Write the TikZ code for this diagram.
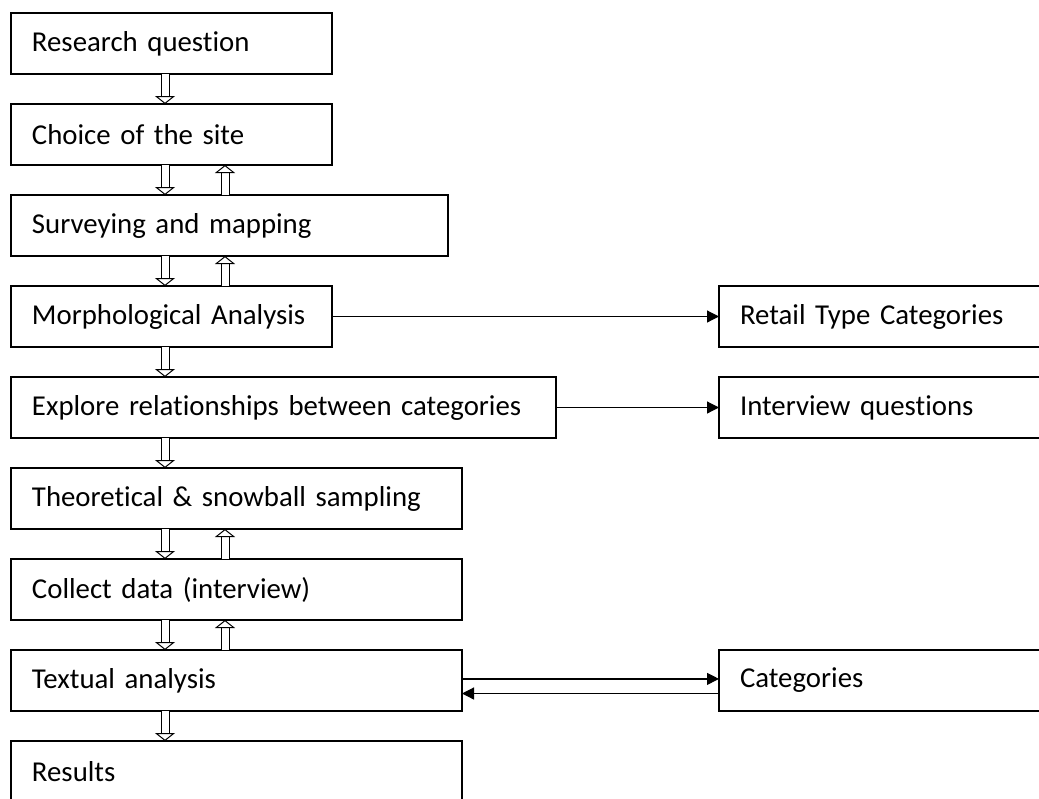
\documentclass[tikz,border=0pt]{standalone}
\usepackage{fontspec}
\setmainfont{Carlito}[Ligatures=NoCommon]
\usepackage{tikz}
\usetikzlibrary{arrows.meta, positioning, calc}

\begin{document}
\begin{tikzpicture}[
    node distance=15pt,
    box/.style={rectangle, draw, line width=0.75pt, outer sep=0pt, minimum height=30.5pt, inner xsep=10.5pt, inner ysep=0pt, align=left, font=\fontsize{14.4}{17}\selectfont},
    arrow/.style={line width=0.6pt, -{Triangle[length=6pt, width=6pt]}},
    hollow/.style={line width=0.5pt, double, double distance=3.5pt, -{Triangle[open, length=4pt, width=10pt, line width=0.5pt]}}
  ]
  \clip (0,0) rectangle (519.5pt,-399pt);
  \coordinate (rcol) at (359.5pt,0);

    % Main steps, left column
    \node[box, anchor=north west, text width=139.5pt] (rq) at (5.5pt,-6.5pt) {Research question};
    \node[box, below=of rq.south west, anchor=north west, text width=139.5pt] (site) {Choice of the site};
    \node[box, below=of site.south west, anchor=north west, text width=197.5pt] (survey) {Surveying and mapping};
    \node[box, below=of survey.south west, anchor=north west, text width=139.5pt] (morph) {Morphological Analysis};
    \node[box, below=of morph.south west, anchor=north west, text width=251.5pt] (explore) {Explore relationships between categories};
    \node[box, below=of explore.south west, anchor=north west, text width=204.5pt] (sampling) {Theoretical \& snowball sampling};
    \node[box, below=of sampling.south west, anchor=north west, text width=204.5pt] (collect) {Collect data (interview)};
    \node[box, below=of collect.south west, anchor=north west, text width=204.5pt] (textual) {Textual analysis};
    \node[box, below=of textual.south west, anchor=north west, text width=204.5pt] (results) {Results};

    % Outputs, right column
    \node[box, anchor=west, text width=200pt] (retail) at (morph.east -| rcol) {Retail Type Categories};
    \node[box, anchor=west, text width=200pt] (questions) at (explore.east -| rcol) {Interview questions};
    \node[box, anchor=west, text width=200pt] (cats) at (textual.east -| rcol) {Categories};

    % Hollow arrows down the column
    \draw[hollow] ([xshift=77pt]rq.south west) -- ([xshift=77pt]site.north west);
    \draw[hollow] ([xshift=77pt]site.south west) -- ([xshift=77pt]survey.north west);
    \draw[hollow] ([xshift=107pt]survey.north west) -- ([xshift=107pt]site.south west);
    \draw[hollow] ([xshift=77pt]survey.south west) -- ([xshift=77pt]morph.north west);
    \draw[hollow] ([xshift=107pt]morph.north west) -- ([xshift=107pt]survey.south west);
    \draw[hollow] ([xshift=77pt]morph.south west) -- ([xshift=77pt]explore.north west);
    \draw[hollow] ([xshift=77pt]explore.south west) -- ([xshift=77pt]sampling.north west);
    \draw[hollow] ([xshift=77pt]sampling.south west) -- ([xshift=77pt]collect.north west);
    \draw[hollow] ([xshift=107pt]collect.north west) -- ([xshift=107pt]sampling.south west);
    \draw[hollow] ([xshift=77pt]collect.south west) -- ([xshift=77pt]textual.north west);
    \draw[hollow] ([xshift=107pt]textual.north west) -- ([xshift=107pt]collect.south west);
    \draw[hollow] ([xshift=77pt]textual.south west) -- ([xshift=77pt]results.north west);

    % Side arrows
    \draw[arrow] (morph.east) -- (morph.east -| retail.west);
    \draw[arrow] (explore.east) -- (explore.east -| questions.west);
    \draw[arrow] ([yshift=0.8pt]textual.east) -- ([yshift=0.8pt]textual.east -| cats.west);
    \draw[arrow] ([yshift=-6.5pt]textual.east -| cats.west) -- ([yshift=-6.5pt]textual.east);
  \end{tikzpicture}
\end{document}
